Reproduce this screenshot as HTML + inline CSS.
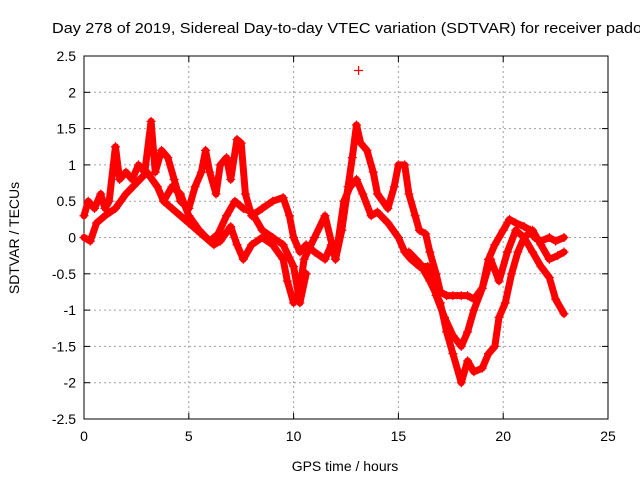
<!DOCTYPE html>
<html><head><meta charset="utf-8"><style>
body{margin:0;background:#fff;}
svg{display:block;font-family:"Liberation Sans",sans-serif;}
</style></head><body>
<svg id="chart" width="640" height="480" viewBox="0 0 640 480">
<rect width="640" height="480" fill="#fff"/>
<text x="52" y="33" font-size="15" textLength="590" lengthAdjust="spacingAndGlyphs" fill="#000">Day 278 of 2019, Sidereal Day-to-day VTEC variation (SDTVAR) for receiver pado</text>
<g id="grid"></g>
<g id="axes"></g>
<g id="marks"></g>
<text x="345" y="471" font-size="14" text-anchor="middle">GPS time / hours</text>
<text transform="translate(19,238) rotate(-90)" font-size="14" text-anchor="middle">SDTVAR / TECUs</text>
</svg>
<script>
const xTicks=[0,5,10,15,20,25];
const yTicks=[-2.5,-2,-1.5,-1,-0.5,0,0.5,1,1.5,2,2.5];
const yTickLabels=["-2.5","-2","-1.5","-1","-0.5","0","0.5","1","1.5","2","2.5"];
const trackA=[[0,0.3],[0.2,0.5],[0.5,0.4],[0.8,0.6],[1.0,0.4],[1.2,0.5],[1.5,1.25],[1.7,0.8],[2.0,0.9],[2.3,0.8],[2.6,1.0],[2.9,0.9],[3.2,1.6],[3.4,0.9],[3.7,1.2],[4.0,1.1],[4.3,0.8],[4.6,0.5],[5.0,0.4],[5.3,0.7],[5.6,0.9],[5.8,1.2],[6.0,0.9],[6.3,0.6],[6.5,1.0],[6.8,1.1],[7.0,0.8],[7.3,1.35],[7.5,1.3],[7.7,0.6],[8.0,0.3],[8.5,0.4],[9.0,0.5],[9.5,0.55],[9.8,0.3],[10.0,0.0],[10.3,-0.2],[10.6,-0.1],[11.0,-0.2],[11.5,-0.3],[11.8,-0.1],[12.0,-0.3],[12.3,0.1],[12.6,0.7],[12.8,1.1],[13.0,1.55],[13.2,1.3],[13.5,1.2],[13.8,0.9],[14.0,0.6],[14.5,0.4],[14.8,0.7],[15.0,1.0],[15.3,1.0],[15.5,0.6],[15.8,0.3],[16.0,0.1],[16.3,0.05],[16.5,-0.2],[16.8,-0.5],[17.0,-0.75],[17.3,-0.8],[17.6,-0.8],[18.0,-0.8],[18.3,-0.8],[18.6,-0.85],[19.0,-0.7],[19.3,-0.3],[19.6,-0.1],[20.0,0.1],[20.3,0.25],[20.6,0.2],[21.0,0.15],[21.3,0.1],[21.5,0.0],[21.8,-0.05],[22.2,0.0],[22.5,-0.05],[22.9,0.0]];
const trackB=[[0,0.0],[0.3,-0.05],[0.6,0.2],[1,0.3],[1.5,0.4],[2,0.6],[2.5,0.75],[3,0.9],[3.5,0.7],[3.8,0.5],[4.2,0.4],[4.6,0.3],[5,0.2],[5.4,0.1],[5.8,0.0],[6.2,-0.1],[6.5,-0.05],[7,0.15],[7.3,-0.1],[7.6,-0.3],[8,-0.1],[8.5,0.0],[9,-0.1],[9.5,-0.3],[9.7,-0.6],[10,-0.9],[10.3,-0.7],[10.5,-0.3],[11,0.0],[11.5,0.3],[12,-0.3],[12.4,0.5],[12.7,0.7],[13,0.8],[13.3,0.6],[13.7,0.3],[14.0,0.35],[14.5,0.2],[15.0,0.0],[15.3,-0.2],[15.6,-0.3],[16,-0.4],[16.4,-0.4],[16.8,-0.8],[17.2,-1.1],[17.6,-1.35],[18,-1.5],[18.3,-1.3],[18.6,-1.0],[19,-0.7],[19.4,-0.3],[19.8,-0.6],[20.2,-0.2],[20.6,0.1],[21.0,0.0],[21.4,-0.2],[21.8,-0.4],[22.2,-0.55],[22.5,-0.85],[22.9,-1.05]];
const trackC=[[15.5,-0.2],[16,-0.35],[16.5,-0.6],[17,-0.9],[17.3,-1.3],[17.6,-1.6],[18,-2.0],[18.3,-1.7],[18.6,-1.85],[19,-1.8],[19.3,-1.6],[19.6,-1.5],[19.8,-1.1],[20.1,-0.9],[20.4,-0.5],[20.7,-0.2],[21.0,0.0],[21.4,0.1],[21.8,-0.1],[22.2,-0.3],[22.6,-0.25],[22.9,-0.2]];
const trackD=[[3.8,0.5],[4.2,0.7],[4.6,0.6],[5,0.3],[5.5,0.1],[6,-0.05],[6.4,0.05],[6.8,0.3],[7.2,0.5],[7.6,0.4],[8,0.35],[8.5,0.1],[9,0.0],[9.5,-0.1],[10,-0.4],[10.3,-0.9],[10.6,-0.5]];
const outliers=[[13.1,2.3]];
const series=[trackA,trackB,trackC,trackD];

const X0=84,X1=608,Y0=419,Y1=56;
const xs=t=>X0+(t-0)/(25-0)*(X1-X0);
const ys=v=>Y0-(v+2.5)/5*(Y0-Y1);
const NS="http://www.w3.org/2000/svg";
function mk(tag,attrs,parent){const e=document.createElementNS(NS,tag);for(const k in attrs)e.setAttribute(k,attrs[k]);parent.appendChild(e);return e;}
const grid=document.getElementById('grid'),axes=document.getElementById('axes'),marks=document.getElementById('marks');
xTicks.forEach((t,i)=>{const x=xs(t);
 if(i>0&&i<xTicks.length-1){const g=mk('line',{x1:x,x2:x,y1:Y1,y2:Y0,stroke:'#a0a0a0','stroke-dasharray':'2,3'},grid);}
 mk('line',{x1:x,x2:x,y1:Y0,y2:Y0-6,stroke:'#000'},axes);mk('line',{x1:x,x2:x,y1:Y1,y2:Y1+6,stroke:'#000'},axes);
 const tx=mk('text',{x:x,y:Y0+22,'font-size':14,'text-anchor':'middle'},axes);tx.textContent=t;
 });
yTicks.forEach((v,i)=>{const y=ys(v);
 if(i>0&&i<yTicks.length-1){const g=mk('line',{x1:X0,x2:X1,y1:y,y2:y,stroke:'#a0a0a0','stroke-dasharray':'2,3'},grid);}
 mk('line',{x1:X0,x2:X0+6,y1:y,y2:y,stroke:'#000'},axes);mk('line',{x1:X1,x2:X1-6,y1:y,y2:y,stroke:'#000'},axes);
 const tx=mk('text',{x:X0-8,y:y+5,'font-size':14,'text-anchor':'end'},axes);tx.textContent=yTickLabels[i];
 });
mk('rect',{x:X0,y:Y1,width:X1-X0,height:Y0-Y1,fill:'none',stroke:'#000'},axes);
series.forEach((s,si)=>{
 const pl=mk('polyline',{points:s.map(p=>xs(p[0])+','+ys(p[1])).join(' '),fill:'none',stroke:'#f00','stroke-width':7,'stroke-linejoin':'round','stroke-linecap':'round'},marks);
 
});
series.concat([outliers]).forEach(s=>s.forEach(p=>{const x=xs(p[0]),y=ys(p[1]);
 const m=mk('path',{d:`M${x-4.5},${y}h9M${x},${y-4.5}v9`,stroke:'#f00','stroke-width':1.2},marks);
 }));
</script>
</body></html>
